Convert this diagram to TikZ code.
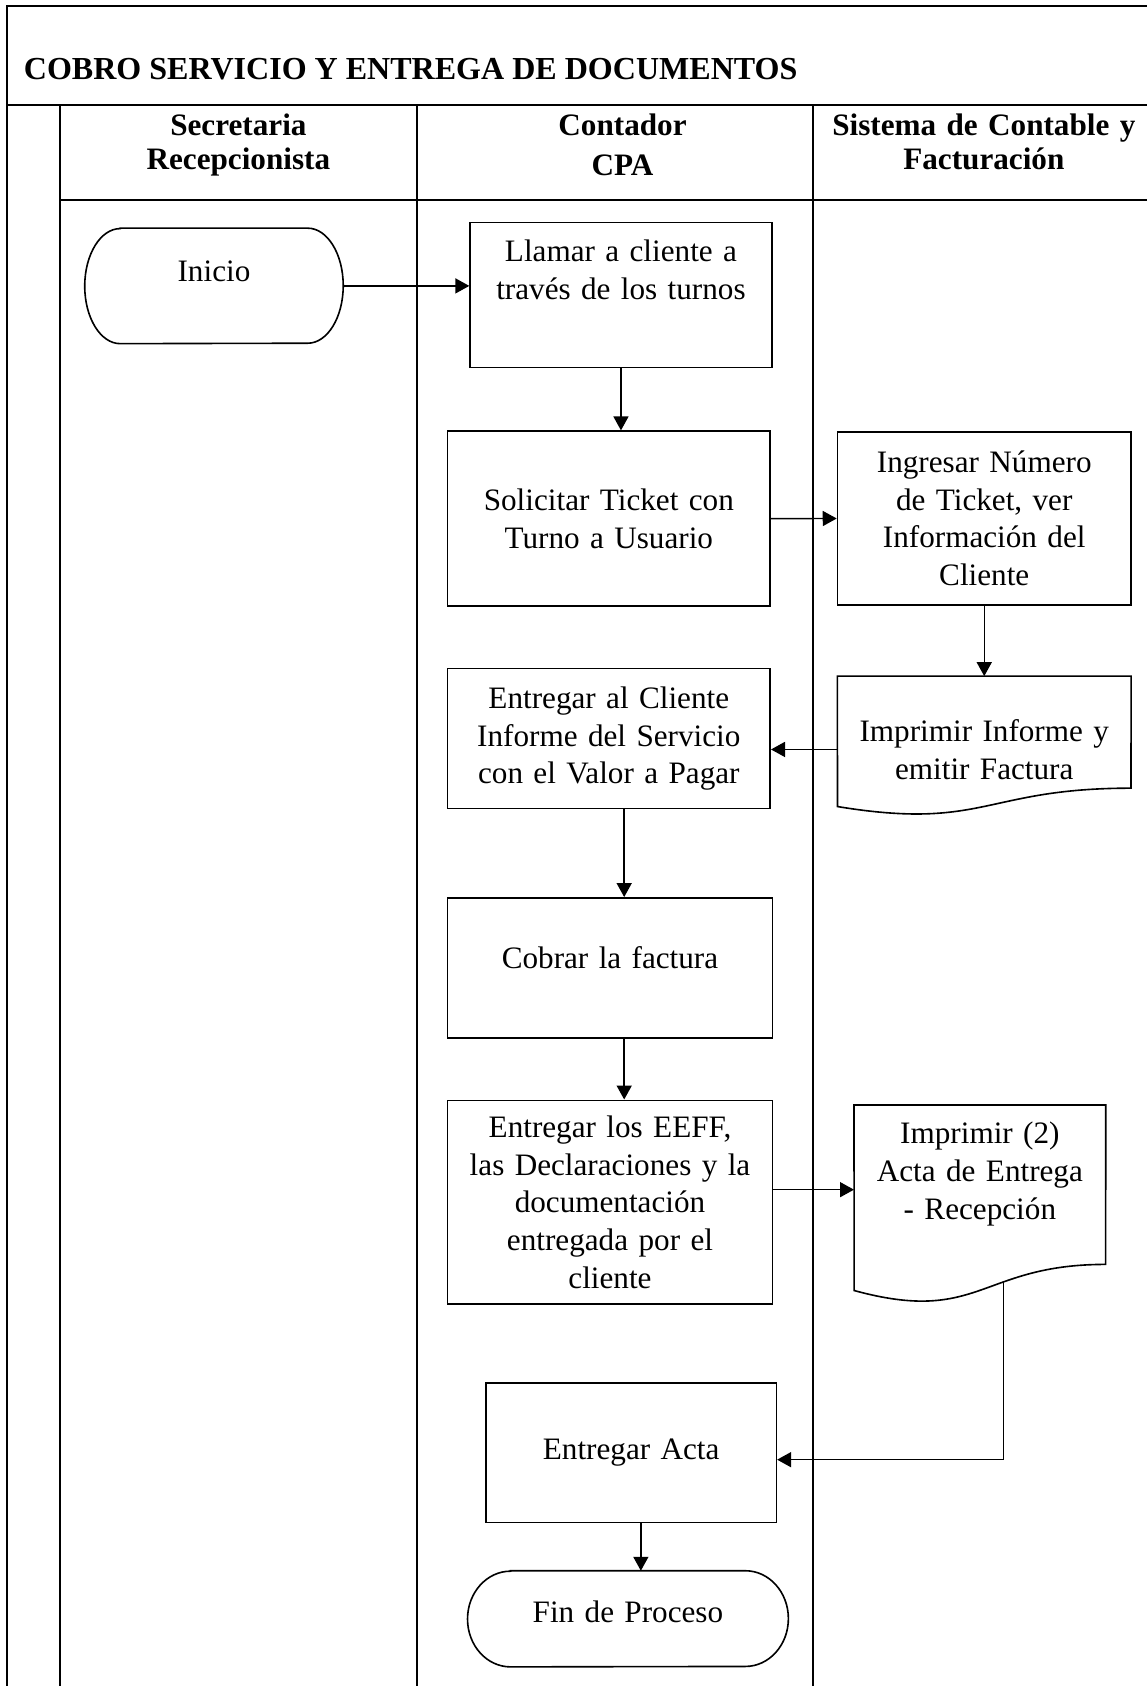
\documentclass[tikz,border=0pt]{standalone}
\usepackage{fontspec}
\setmainfont{Liberation Serif}
\usetikzlibrary{arrows.meta, calc}

\begin{document}
\begin{tikzpicture}[
    x=1pt, y=-1pt,
    >={Triangle[length=13pt, width=14pt]},
    txt/.style={font=\fontsize{29}{35}\selectfont},
    box/.style={draw, line width=1.5pt, align=center, inner sep=2pt, txt},
    ghost/.style={align=center, inner sep=2pt, txt},
    sz/.style 2 args={minimum width=#1pt, minimum height=#2pt, text width=#1pt-12pt},
    head/.style={font=\fontsize{29}{32}\selectfont\bfseries, align=center, anchor=base, inner sep=0pt},
    outline/.style={line width=1.5pt},
    arr/.style={->, line width=1.3pt},
    frame/.style={line width=1.8pt},
    lane/.style={line width=1.6pt}
]
\useasboundingbox (0,0) rectangle (1066,1568);

% Table frame
\draw[frame] (6.5,1572) -- (6.5,5.6) -- (1072,5.6);
\draw[frame] (6.5,97.7) -- (1072,97.7);
\draw[frame] (55.8,97.7) -- (55.8,1572);
\draw[frame] (55.8,186) -- (1072,186);
\draw[lane] (387.6,97.7) -- (387.6,1572);
\draw[lane] (756,97.7) -- (756,1572);

% Title and lane headers
\node[font=\fontsize{29.8}{35}\selectfont\bfseries, anchor=base west, inner sep=0pt] (title) at (22,73.8) {COBRO SERVICIO Y ENTREGA DE DOCUMENTOS};
\node[head, text width=320pt] (hsec) at (221.7,125.6) {Secretaria\\Recepcionista};
\node[head, text width=360pt] (hcpa) at (579,125.6) {Contador\\[6pt]CPA};
\node[head, text width=310pt] (hsis) at (915,125.6) {Sistema de Contable y\\Facturación};

% Steps
\node[ghost, sz={240}{107}, text depth=27.3pt] (inicio) at (199,265.9) {Inicio};
\node[box, sz={280.6}{134.9}, text depth=81.5pt] (llamar) at (577.5,274.25) {Llamar a cliente a\\través de los turnos};
\node[box, sz={300.2}{162.7}] (solicitar) at (566.2,482.35) {Solicitar Ticket con\\Turno a Usuario};
\node[box, sz={272.9}{161.2}] (ingresar) at (915.35,482.2) {Ingresar Número\\de Ticket, ver\\Información del\\Cliente};
\node[ghost, sz={272.9}{136}] (imprimir) at (915.35,697) {Imprimir Informe y\\emitir Factura};
\node[box, sz={300.2}{130.3}] (entregar) at (566.2,686.85) {Entregar al Cliente\\Informe del Servicio\\con el Valor a Pagar};
\node[box, sz={302.4}{130.3}, text depth=18.5pt] (cobrar) at (567.3,900.15) {Cobrar la factura};
\node[box, sz={302.4}{189.7}] (eeff) at (567.3,1118.15) {Entregar los EEFF,\\las Declaraciones y la\\documentación\\entregada por el\\cliente};
\node[ghost, sz={233.8}{157}, text depth=105.3pt] (acta2) at (911.3,1106.4) {Imprimir (2)\\Acta de Entrega\\- Recepción};
\node[box, sz={270}{130}] (acta) at (587,1351) {Entregar Acta};
\node[ghost, sz={298}{89}, text depth=13.8pt] (fin) at (584,1505.5) {Fin de Proceso};

% Terminator outlines
\foreach \n/\rx/\ry in {inicio/33/53.5, fin/40/44.5}
  \draw[outline] ($(\n.north west)+(\rx,0)$) -- ($(\n.north east)-(\rx,0)$)
    arc[start angle=90, end angle=-90, x radius=\rx pt, y radius=\ry pt]
    -- ($(\n.south west)+(\rx,0)$)
    arc[start angle=270, end angle=90, x radius=\rx pt, y radius=\ry pt] -- cycle;

% Document outlines
\draw[outline] (imprimir.north west) -- (imprimir.north east) -- (1051.8,733)
  .. controls (915.4,733) and (915.4,772.6) .. (778.9,750.1) -- cycle;
\draw[outline] (acta2.north west) -- (acta2.north east) -- (1028.2,1175.9)
  .. controls (911.3,1175.9) and (911.3,1232.2) .. (794.4,1200.2) -- cycle;

% Connectors
\draw[arr] (inicio.east) -- (inicio.east -| llamar.west);
\draw[arr] (llamar.south) -- (solicitar.north -| llamar.south);
\draw[arr] (solicitar.east) -- (ingresar.west);
\draw[arr] (ingresar.south) -- (imprimir.north);
\draw[arr] (imprimir.west) -- (imprimir.west -| entregar.east);
\draw[arr] ([xshift=3pt]entregar.south -| llamar.south) -- ([xshift=3pt]cobrar.north -| llamar.south);
\draw[arr] ([xshift=3pt]cobrar.south -| llamar.south) -- ([xshift=3pt]eeff.north -| llamar.south);
\draw[arr] (acta2.west -| eeff.east) -- (acta2.west);
\coordinate (acta2out) at (933.3,1192.3);
\draw[arr] (acta2out) |- ([yshift=-6.5pt]acta.east);
\draw[arr] ([xshift=9pt]acta.south) -- ([xshift=9pt]acta.south |- fin.north);

\end{tikzpicture}
\end{document}
